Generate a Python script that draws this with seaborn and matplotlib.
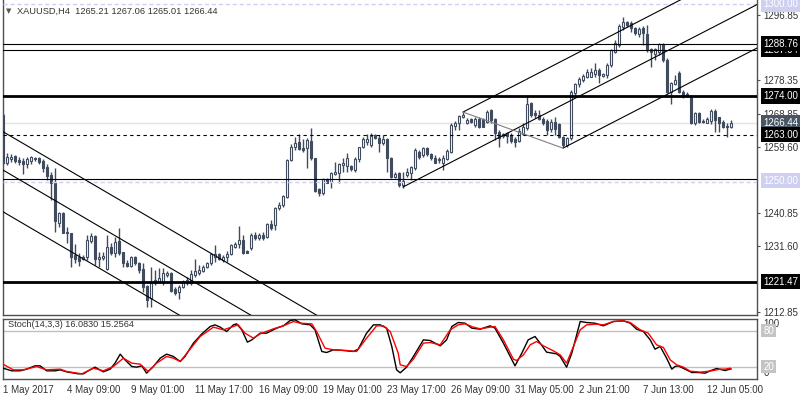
import matplotlib
matplotlib.use('Agg')
import matplotlib.pyplot as plt
import matplotlib.transforms as mtransforms
import seaborn as sns
import numpy as np
import pandas as pd

# ---------------- data ----------------
opens = [1268.6,1255.1,1256.0,1257.0,1255.8,1255.6,1254.7,1255.6,1256.5,1256.3,
         1255.6,1254.0,1251.6,1249.4,1238.1,1240.9,1235.5,1235.1,1229.0,1228.5,
         1227.9,1228.3,1233.0,1234.3,1227.7,1228.2,1224.9,1231.3,1229.6,1233.0,
         1229.8,1226.8,1226.0,1228.5,1226.6,1224.9,1220.2,1216.7,1221.0,1221.4,
         1221.4,1223.3,1224.0,1219.3,1218.6,1219.8,1221.1,1221.1,1223.3,1223.8,
         1224.5,1225.5,1226.6,1228.5,1229.2,1227.6,1228.5,1229.2,1231.3,1232.1,
         1233.2,1230.1,1230.9,1234.6,1233.7,1234.6,1234.0,1237.7,1237.5,1242.2,
         1243.1,1245.5,1255.8,1259.6,1261.0,1259.1,1259.1,1261.3,1256.3,1247.5,
         1246.6,1250.4,1249.7,1251.9,1252.2,1254.4,1254.1,1254.1,1253.0,1256.0,
         1259.6,1261.0,1260.1,1262.8,1262.2,1260.7,1261.7,1256.3,1250.9,1252.2,
         1248.8,1251.6,1252.1,1253.5,1258.2,1257.2,1259.1,1257.5,1256.5,1256.1,
         1255.1,1256.0,1258.2,1265.5,1266.2,1267.9,1266.2,1267.3,1265.7,1267.5,
         1267.3,1266.7,1270.0,1267.3,1263.8,1262.6,1263.4,1262.9,1261.7,1261.3,
         1263.2,1264.8,1271.9,1269.2,1268.6,1267.3,1266.9,1264.5,1266.7,1266.0,
         1262.4,1260.1,1262.0,1274.9,1277.3,1278.5,1279.4,1279.4,1280.3,1281.3,
         1279.6,1279.9,1282.7,1286.5,1288.4,1293.6,1295.0,1294.5,1293.1,1291.5,
         1293.1,1291.5,1287.1,1285.8,1286.5,1288.6,1284.1,1275.2,1277.3,1280.5,
         1275.2,1274.4,1273.9,1266.4,1269.0,1266.9,1266.4,1266.9,1269.8,1267.9,
         1266.7,1265.5,1265.21]
highs = [1269.2,1257.7,1257.4,1257.3,1256.6,1256.3,1256.6,1257.0,1256.8,1256.8,
         1256.0,1254.6,1252.5,1253.7,1241.2,1241.2,1237.0,1235.3,1232.1,1229.4,
         1229.0,1234.6,1235.1,1234.6,1229.9,1229.9,1234.6,1232.3,1234.1,1236.5,
         1229.9,1227.6,1228.7,1228.7,1227.1,1226.6,1220.5,1225.7,1224.7,1225.2,
         1225.2,1224.5,1224.3,1219.8,1220.5,1221.9,1222.8,1224.7,1227.7,1226.1,
         1226.1,1227.1,1229.6,1231.8,1229.6,1229.0,1230.2,1232.1,1232.7,1237.2,
         1234.6,1230.4,1235.1,1235.6,1235.1,1235.6,1238.1,1238.9,1242.6,1244.0,
         1245.9,1256.0,1260.4,1262.4,1263.1,1261.7,1262.0,1264.8,1256.3,1247.8,
         1250.7,1250.7,1252.5,1255.4,1255.1,1256.3,1257.7,1254.4,1256.8,1259.6,
         1262.4,1263.1,1263.4,1263.1,1262.9,1262.9,1262.0,1256.8,1252.5,1252.5,
         1252.5,1253.5,1254.1,1259.1,1258.7,1259.4,1259.4,1257.9,1257.2,1256.8,
         1257.2,1258.9,1266.2,1267.0,1268.6,1269.5,1267.6,1267.6,1267.9,1267.9,
         1267.6,1270.0,1270.4,1267.6,1264.3,1263.6,1263.8,1263.4,1262.4,1264.8,
         1266.2,1273.9,1272.3,1270.0,1270.0,1267.9,1267.3,1267.3,1267.9,1266.4,
         1262.6,1262.4,1275.6,1277.7,1279.4,1280.3,1281.5,1281.8,1283.2,1281.8,
         1280.5,1283.2,1287.1,1289.8,1294.3,1296.2,1295.2,1295.2,1293.5,1293.5,
         1293.7,1294.0,1287.4,1287.4,1289.0,1289.0,1284.6,1278.0,1279.9,1281.1,
         1275.6,1275.2,1274.2,1269.5,1269.5,1267.3,1268.1,1270.2,1270.2,1268.1,
         1267.2,1266.2,1267.06]
lows = [1254.7,1254.4,1255.4,1254.9,1254.4,1251.9,1253.5,1254.7,1255.7,1254.7,
        1252.5,1250.2,1244.5,1235.6,1237.0,1235.1,1232.3,1225.5,1226.6,1226.0,
        1227.6,1227.6,1232.3,1226.1,1225.7,1227.6,1224.7,1229.0,1228.5,1229.0,
        1225.7,1225.7,1225.7,1226.1,1223.8,1218.6,1214.4,1214.4,1220.5,1221.0,
        1220.5,1222.8,1218.6,1217.7,1216.5,1219.5,1220.5,1220.5,1222.8,1223.3,
        1224.2,1225.2,1226.1,1227.1,1227.6,1227.1,1227.1,1229.0,1230.9,1230.9,
        1229.2,1229.4,1230.4,1233.2,1233.2,1233.2,1233.7,1236.0,1236.0,1241.7,
        1242.6,1245.0,1255.6,1258.7,1258.7,1258.2,1253.5,1255.8,1246.9,1245.7,
        1246.0,1249.2,1247.8,1251.6,1249.2,1252.5,1252.5,1252.8,1252.5,1255.4,
        1259.1,1260.1,1259.6,1261.7,1258.2,1260.1,1252.5,1250.7,1250.7,1248.3,
        1248.0,1251.1,1250.2,1253.0,1256.0,1256.8,1257.0,1255.8,1254.9,1254.9,
        1253.0,1255.8,1257.7,1264.3,1264.3,1267.6,1266.0,1266.2,1265.3,1264.8,
        1265.1,1266.2,1266.2,1261.5,1259.6,1262.2,1260.6,1260.6,1259.4,1261.0,
        1262.9,1264.3,1268.1,1267.6,1267.2,1265.7,1262.9,1263.8,1262.9,1262.0,
        1259.6,1259.6,1261.5,1273.8,1276.6,1278.0,1278.9,1279.2,1279.4,1277.5,
        1279.2,1278.9,1282.2,1286.0,1287.9,1292.6,1293.6,1292.1,1291.2,1290.7,
        1288.4,1286.5,1282.2,1284.1,1285.5,1283.7,1274.7,1271.7,1277.0,1274.7,
        1273.3,1273.6,1266.0,1265.7,1266.2,1266.2,1266.2,1266.0,1263.9,1263.9,
        1264.8,1262.4,1265.01]
closes = [1255.1,1256.6,1256.8,1255.6,1255.4,1254.6,1256.0,1256.6,1256.0,1255.2,
          1253.7,1251.4,1249.2,1238.7,1240.9,1235.3,1235.1,1228.5,1227.8,1227.3,
          1228.5,1233.2,1234.3,1227.7,1228.5,1228.7,1231.3,1229.6,1232.7,1229.6,
          1226.6,1225.9,1228.3,1226.6,1224.7,1220.0,1216.2,1221.1,1221.9,1222.4,
          1223.8,1224.0,1218.9,1218.3,1219.8,1221.4,1221.9,1223.6,1224.5,1224.7,
          1225.7,1226.6,1229.2,1229.2,1227.7,1228.5,1229.2,1231.7,1232.1,1233.2,
          1229.6,1229.6,1234.6,1233.7,1234.6,1233.9,1237.6,1236.5,1242.2,1243.1,
          1245.7,1255.8,1259.6,1260.6,1258.9,1258.7,1261.5,1256.3,1247.2,1246.6,
          1250.4,1249.4,1252.1,1252.5,1254.6,1255.1,1256.3,1253.2,1256.0,1259.4,
          1261.7,1261.7,1262.6,1262.2,1260.7,1261.7,1256.3,1250.9,1251.9,1248.8,
          1250.0,1252.5,1253.8,1258.7,1256.8,1259.1,1257.4,1256.5,1255.1,1255.8,
          1256.5,1258.5,1265.7,1266.4,1268.3,1268.6,1267.2,1266.7,1267.5,1265.3,
          1265.3,1269.5,1267.2,1263.6,1262.0,1263.2,1262.6,1261.3,1261.0,1264.1,
          1265.3,1271.7,1268.6,1268.6,1267.3,1266.4,1264.3,1266.7,1264.5,1262.4,
          1260.1,1262.0,1275.2,1277.3,1278.7,1279.6,1280.8,1280.8,1281.3,1279.9,
          1280.2,1282.7,1286.9,1288.8,1293.7,1295.0,1294.0,1293.1,1291.7,1292.9,
          1291.7,1286.9,1286.5,1287.1,1288.6,1284.1,1275.2,1277.5,1278.5,1275.2,
          1273.9,1273.9,1266.2,1269.0,1266.7,1266.5,1267.3,1269.8,1267.2,1266.4,
          1265.3,1265.1,1266.44]

# Stochastic (14,3,3) read at turning points: bar position and value
k_bar = [0,2.2,4.3,5.9,8.0,9.3,10.9,13.0,14.3,15.9,18.8,20.1,21.3,23.0,25.1,26.8,28.0,29.3,30.5,32.2,
         33.4,34.7,35.9,37.6,39.3,40.9,42.6,44.3,45.5,47.6,49.7,51.8,53.0,54.3,55.9,57.6,58.4,59.7,61.1,62.2,
         64.3,65.9,68.4,70.1,71.8,73.0,74.7,76.8,78.0,79.7,80.9,82.6,85.1,87.6,88.8,90.9,92.6,94.3,95.9,97.2,
         98.4,99.3,100.9,102.6,105.1,106.8,109.3,110.9,112.2,113.8,115.5,117.2,119.3,121.8,123.0,125.1,128.0,
         129.7,131.3,133.0,134.3,135.9,138.4,139.3,140.9,142.2,144.3,145.9,148.0,150.1,152.6,155.1,156.8,158.4,
         160.1,161.8,163.0,164.3,165.9,167.2,168.0,168.8,170.5,172.2,173.8,175.5,176.8,178.4,180.5,181.8,182]
k_val = [17.2,12.8,12.8,15.6,21.1,21.1,12.8,12.8,14.4,11.1,7.8,7.8,12.8,18.9,11.1,15.6,25.6,40.6,31.1,20.0,
         18.9,21.1,8.9,20.0,33.9,40.6,36.7,28.3,36.7,58.9,74.4,86.7,89.4,85.6,78.3,89.4,91.1,81.1,60.6,64.4,
         75.6,75.6,83.9,87.8,96.7,97.8,91.1,89.4,81.1,45.0,43.3,47.8,46.7,45.0,48.9,75.6,89.4,89.4,83.9,53.3,
         14.4,9.5,18.9,36.7,64.4,63.3,54.4,64.4,86.7,93.3,92.2,83.9,82.2,87.8,83.9,58.9,21.1,
         42.2,64.4,70.0,58.9,43.9,41.1,36.7,18.9,42.2,95.0,93.3,92.2,87.8,95.0,96.1,92.2,82.2,
         78.3,64.4,48.9,53.3,33.9,15.6,20.0,21.1,15.6,10.0,10.0,8.9,12.8,16.7,13.3,15.6,16.08]
d_bar = [0,2.6,5.1,8.4,10.9,14.3,15.9,19.7,22.6,25.1,27.6,30.1,32.2,34.3,36.3,38.4,40.9,42.6,44.3,46.3,
         49.3,52.6,55.1,57.6,58.8,60.5,62.6,64.3,67.6,70.1,72.6,74.3,77.2,78.4,80.5,82.6,85.9,88.4,90.9,93.4,
         95.1,96.8,98.8,99.3,100.9,102.6,105.1,106.8,109.3,111.8,113.8,115.5,117.6,119.3,121.8,123.0,125.1,
         127.6,128.4,130.1,131.8,133.4,135.1,137.6,139.3,140.9,142.6,144.3,145.9,148.4,150.1,152.6,155.1,
         156.8,159.3,161.3,163.4,165.1,166.8,168.4,170.1,171.8,174.3,175.9,177.6,179.3,180.5,181.8,182]
d_val = [23.9,14.4,14.4,20.0,14.4,15.6,11.7,7.8,17.2,12.8,20.0,33.9,25.6,23.9,11.7,25.6,36.7,33.9,28.3,45.0,
         70.0,85.6,81.1,86.7,89.4,75.6,67.2,74.4,82.8,87.8,95.0,92.2,91.1,78.3,50.6,47.8,46.7,45.0,67.2,87.8,
         87.8,78.3,42.2,22.8,20.0,32.2,58.9,60.0,56.1,81.1,89.4,91.1,85.6,82.8,85.6,86.7,64.4,
         32.2,30.0,39.4,56.1,61.7,54.4,46.1,39.4,25.6,53.3,81.1,89.4,90.6,89.4,95.0,96.1,
         93.3,81.1,75.6,56.1,51.7,31.1,22.8,18.9,12.2,10.6,11.7,13.3,15.6,15.6,17.2,15.26]

xtick_bars = [0, 16, 32, 48, 64, 80, 96, 112, 128, 144, 160, 176]
xtick_labels = ['1 May 2017', '4 May 09:00', '9 May 01:00', '11 May 17:00', '16 May 09:00',
                '19 May 01:00', '23 May 17:00', '26 May 09:00', '31 May 05:00', '2 Jun 21:00',
                '7 Jun 13:00', '12 Jun 05:00']
price_ticks = [1296.85, 1278.35, 1268.85, 1259.60, 1240.85, 1231.60, 1212.85]

# trend lines: (bar0, price0, bar1, price1)
down_channel = [(0, 1263.85, 80, 1210.9), (0, 1253.0, 64, 1210.6), (0, 1241.2, 46, 1210.7)]
up_channel = [(100, 1248.2, 189, 1300.1), (115, 1269.4, 189, 1312.6), (140, 1259.2, 189, 1287.8)]
grey_line = (115, 1269.4, 140, 1259.2)

title = 'XAUUSD,H4  1265.21 1267.06 1265.01 1266.44'
stoch_title = 'Stoch(14,3,3) 16.0830 15.2564'

# ---------------- style ----------------
sns.set_style('white')
plt.rcParams['font.family'] = ['Liberation Sans', 'DejaVu Sans']
CAND = '#404c5e'
SPINE = '#505050'
TXT = '#333333'
LAV = '#cfcff2'

fig = plt.figure(figsize=(8, 4), dpi=100)
ax = fig.add_axes([3/800, 1-315/400, 754/800, 315/400])
ax2 = fig.add_axes([3/800, 1-378.5/400, 754/800, 60/400])

XL = (0, 188.5)
ax.set_xlim(*XL)
ax.set_ylim(1212.0, 1301.1)
ax2.set_xlim(*XL)
ax2.set_ylim(0, 100)

for a in (ax, ax2):
    a.set_facecolor('white')
    for s in a.spines.values():
        s.set_color(SPINE)
        s.set_linewidth(1.0)
ax.spines['top'].set_visible(False)

# ---------------- candles ----------------
df = pd.DataFrame({'o': opens, 'h': highs, 'l': lows, 'c': closes})
df['i'] = np.arange(len(df))
bull = df.c >= df.o
ax.vlines(df.i, df.l, df.h, color=CAND, lw=1.0, zorder=2)
hb = np.maximum((df.c - df.o).abs(), 0.18)
ax.bar(df.i[bull], hb[bull], bottom=df.o[bull], width=0.55,
       facecolor='white', edgecolor=CAND, linewidth=0.8, zorder=3)
ax.bar(df.i[~bull], hb[~bull], bottom=df.c[~bull], width=0.55,
       facecolor=CAND, edgecolor=CAND, linewidth=0.8, zorder=3)

# ---------------- horizontal levels ----------------
ax.axhline(1266.44, color='#e4e4e4', lw=1.0, zorder=1)
ax.axhline(1299.9, color=LAV, lw=1.0, ls=(0, (3, 2)), zorder=4)
ax.axhline(1288.76, color='black', lw=0.8, zorder=4)
ax.axhline(1287.04, color='black', lw=0.8, zorder=4)
ax.axhline(1274.00, color='black', lw=2.0, zorder=4)
ax.axhline(1263.00, color='black', lw=0.8, ls=(0, (3, 3)), zorder=4)
ax.axhline(1250.4, color='black', lw=0.8, zorder=4)
ax.axhline(1249.7, color=LAV, lw=1.0, ls=(0, (3, 2)), zorder=4)
ax.axhline(1221.47, color='black', lw=2.0, zorder=4)

for (x0, p0, x1, p1) in down_channel + up_channel:
    ax.plot([x0, x1], [p0, p1], color='black', lw=0.8, zorder=4)
ax.plot([grey_line[0], grey_line[2]], [grey_line[1], grey_line[3]], color='#808080', lw=0.8, zorder=4)

# ---------------- right price axis ----------------
ax.yaxis.tick_right()
ax.set_yticks(price_ticks)
ax.set_yticklabels(['%.2f' % v for v in price_ticks])
ax.tick_params(axis='y', length=2.5, width=0.8, pad=2, labelsize=7, colors=TXT, color=SPINE)
ax.set_xticks([])

trans = mtransforms.blended_transform_factory(ax.transAxes, ax.transData)
def plabel(y, text, bg, fg):
    ax.text(1.0085, y, text, transform=trans, ha='left', va='center', fontsize=7, color=fg,
            bbox=dict(boxstyle='square,pad=0.28', fc=bg, ec='none'), zorder=10, clip_on=False)

plabel(1300.0, '1300.00', LAV, 'white')
plabel(1287.04, '1287.04', 'black', 'white')
plabel(1288.76, '1288.76', 'black', 'white')
plabel(1274.00, '1274.00', 'black', 'white')
plabel(1266.44, '1266.44', '#4a5563', 'white')
plabel(1263.00, '1263.00', 'black', 'white')
plabel(1250.00, '1250.00', LAV, 'white')
plabel(1221.47, '1221.47', 'black', 'white')

# ---------------- stochastic panel ----------------
ax2.axhline(80, color='#c0c0c0', lw=1.0, zorder=1)
ax2.axhline(20, color='#c0c0c0', lw=1.0, zorder=1)
sns.lineplot(x=k_bar, y=k_val, color='black', lw=1.0, ax=ax2, estimator=None, sort=False, zorder=3)
sns.lineplot(x=d_bar, y=d_val, color='#ff0000', lw=1.0, ax=ax2, estimator=None, sort=False, zorder=4)
ax2.set_ylabel('')
ax2.set_yticks([])
ax2.text(0.006, 0.9, stoch_title, transform=ax2.transAxes, ha='left', va='center',
         fontsize=6.6, color=TXT)

trans2 = mtransforms.blended_transform_factory(ax2.transAxes, ax2.transData)
ax2.text(1.0085, 99, '100', transform=trans2, ha='left', va='top', fontsize=7, color=TXT, clip_on=False)
ax2.text(1.0085, 1, '0', transform=trans2, ha='left', va='bottom', fontsize=7, color=TXT, clip_on=False)
for lv in (80, 20):
    ax2.text(1.0085, lv, str(lv), transform=trans2, ha='left', va='center', fontsize=7, color='white',
             bbox=dict(boxstyle='square,pad=0.2', fc='#c4c4c4', ec='none'), clip_on=False, zorder=10)

ax2.set_xticks(xtick_bars)
ax2.set_xticklabels(xtick_labels, ha='left')
ax2.tick_params(axis='x', length=2.5, width=0.8, pad=2.5, labelsize=7, colors=TXT, color=SPINE)

# ---------------- title ----------------
fig.text(6/800, 1-11/400, '\u25bc', fontsize=5, color='#555555', ha='left', va='center',
         family=['DejaVu Sans'])
fig.text(17/800, 1-11/400, title, fontsize=6.7, color=TXT, ha='left', va='center')

fig.savefig('out.png', dpi=100)
